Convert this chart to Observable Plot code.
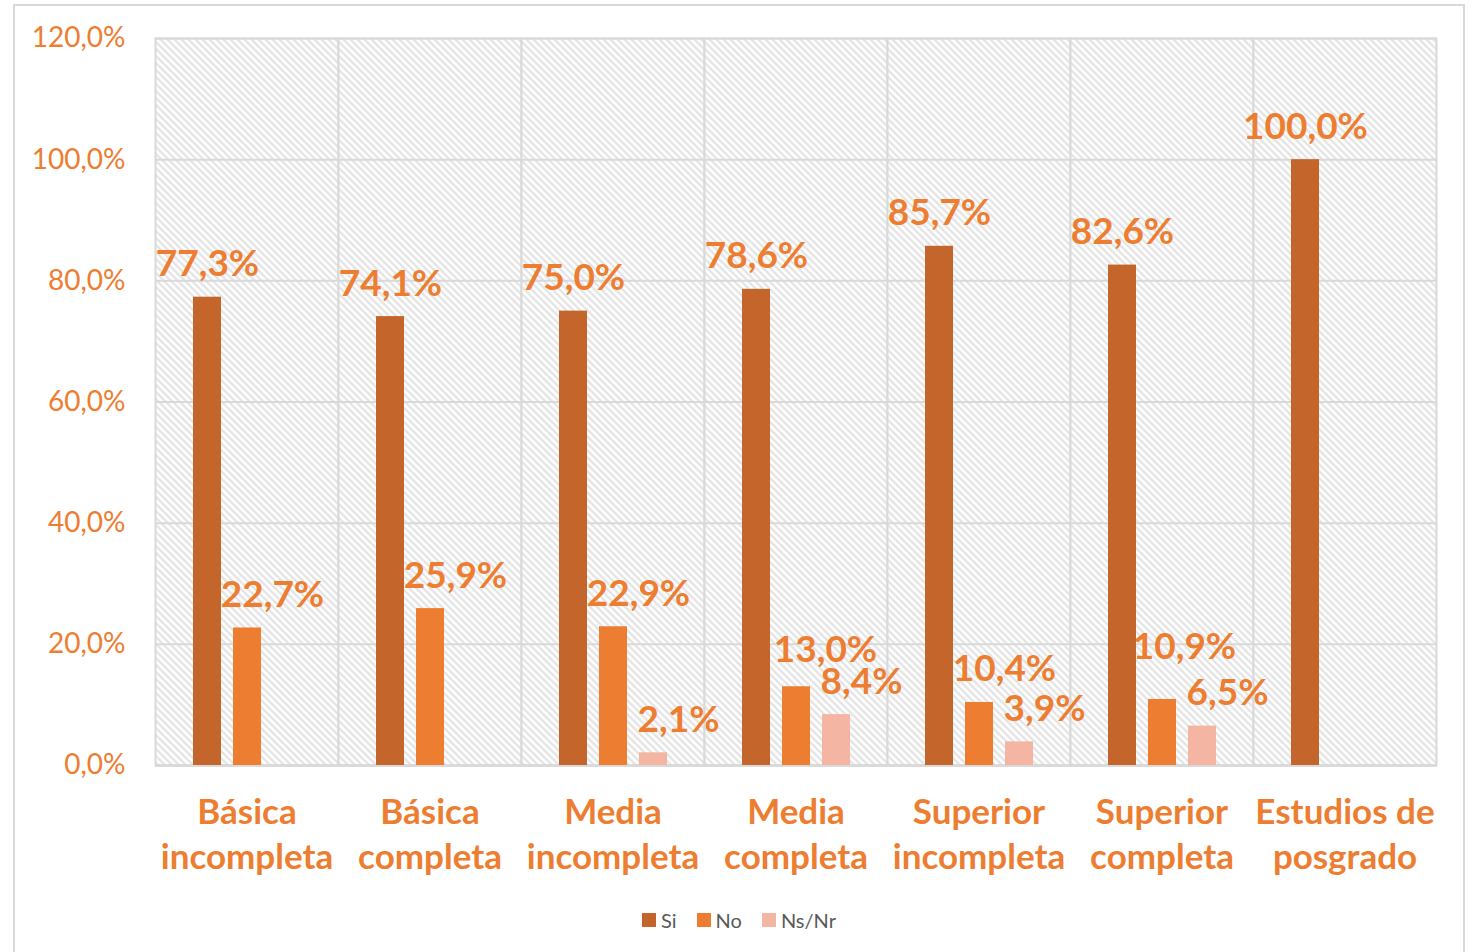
<!DOCTYPE html>
<html>
<head>
<meta charset="utf-8">
<script src="https://cdn.jsdelivr.net/npm/d3@7"></script>
<script src="https://cdn.jsdelivr.net/npm/@observablehq/plot@0.6"></script>
<style>
  html, body { margin: 0; padding: 0; background: #fff; }
  #frame { position: absolute; left: 13px; top: 4px; width: 1448px; height: 960px; border: 2px solid #d9d9d9; background: #fff; }
  #legend { display: flex; justify-content: center; gap: 20px; font-family: Lato, "Open Sans", sans-serif; font-size: 20px; color: #595959; margin-top: 22px; }
  #legend span.item { display: flex; align-items: center; gap: 5px; }
  #legend span.sw { width: 14px; height: 14px; display: inline-block; }
</style>
</head>
<body>
<div id="frame"><div id="chart"></div><div id="legend"></div></div>
<script>
const categories = ["Básica incompleta", "Básica completa", "Media incompleta", "Media completa", "Superior incompleta", "Superior completa", "Estudios de posgrado"];
const categoryLabels = ["Básica\nincompleta", "Básica\ncompleta", "Media\nincompleta", "Media\ncompleta", "Superior\nincompleta", "Superior\ncompleta", "Estudios de\nposgrado"];
const series = ["Si", "No", "Ns/Nr"];
const colors = ["#C4662B", "#ED7D31", "#F4B6A2"];
const siValues = [77.3, 74.1, 75.0, 78.6, 85.7, 82.6, 100.0];
const noValues = [22.7, 25.9, 22.9, 13.0, 10.4, 10.9, null];
const nsnrValues = [null, null, 2.1, 8.4, 3.9, 6.5, null];
const yTicks = [0, 20, 40, 60, 80, 100, 120];

const seriesValues = [siValues, noValues, nsnrValues];
const data = [];
categories.forEach((c, i) => {
  series.forEach((s, j) => {
    const v = seriesValues[j][i];
    if (v != null) data.push({cat: c, series: s, value: v});
  });
});
const labelOf = new Map(categories.map((c, i) => [c, categoryLabels[i]]));
const fmt = v => v.toFixed(1).replace(".", ",") + "%";
const orange = "#ED7D31";
const font = "Lato, 'Open Sans', sans-serif";
// labels lifted to avoid collisions (as in the original)
const isRaised = d => d.series === "No" && d.cat === "Superior completa";
const isLifted = d => d.series === "No" && d.cat === "Media completa";
const labelStyle = {fx: "cat", x: "series", y: "value", text: d => fmt(d.value), fill: orange, fontWeight: "bold", fontSize: 37, lineAnchor: "bottom"};

const chart = Plot.plot({
  width: 1448,
  height: 880,
  marginLeft: 140,
  marginRight: 27,
  marginTop: 32,
  marginBottom: 121,
  style: {fontFamily: font, background: "transparent"},
  fx: {domain: categories, padding: 0, label: null},
  x: {domain: series, paddingInner: 0.31, paddingOuter: 0.91, axis: null},
  y: {domain: [0, 120], label: null},
  color: {domain: series, range: colors},
  marks: [
    Plot.frame({fill: "url(#hatch)", stroke: "#d9d9d9", strokeWidth: 2}),
    Plot.gridY(yTicks, {stroke: "#d9d9d9", strokeOpacity: 1, strokeWidth: 2}),
    Plot.ruleY([0], {stroke: "#d9d9d9", strokeWidth: 2.5}),
    Plot.barY(data, {fx: "cat", x: "series", y: "value", fill: "series"}),
    Plot.text(data.filter(d => d.series === "Si"), {...labelStyle, dy: -21}),
    Plot.text(data.filter(d => d.series !== "Si" && !isRaised(d) && !isLifted(d)), {...labelStyle, dy: -21, dx: 25}),
    Plot.text(data.filter(isLifted), {...labelStyle, dy: -25, dx: 29}),
    Plot.text(data.filter(isRaised), {...labelStyle, dy: -40, dx: 22}),
    Plot.axisY(yTicks, {tickSize: 0, tickPadding: 30, tickFormat: d => d.toFixed(1).replace(".", ",") + "%", fill: orange, fontSize: 28, label: null}),
    Plot.axisFx({anchor: "bottom", tickSize: 0, tickPadding: 26, tickFormat: d => labelOf.get(d), fill: orange, fontWeight: "bold", fontSize: 35, lineHeight: 1.3, label: null})
  ]
});

// hatch pattern definition
const ns = "http://www.w3.org/2000/svg";
const defs = document.createElementNS(ns, "defs");
defs.innerHTML = `<pattern id="hatch" patternUnits="userSpaceOnUse" width="7" height="7">
  <rect width="7" height="7" fill="#ffffff"/>
  <path d="M-1,-1 L8,8 M-1,6 L1,8 M6,-1 L8,1" stroke="#e0e0e0" stroke-width="2"/>
</pattern>`;
chart.insertBefore(defs, chart.firstChild);
document.getElementById("chart").appendChild(chart);

const legend = document.getElementById("legend");
series.forEach((s, i) => {
  const item = document.createElement("span");
  item.className = "item";
  item.innerHTML = `<span class="sw" style="background:${colors[i]}"></span><span>${s}</span>`;
  legend.appendChild(item);
});
</script>
</body>
</html>
